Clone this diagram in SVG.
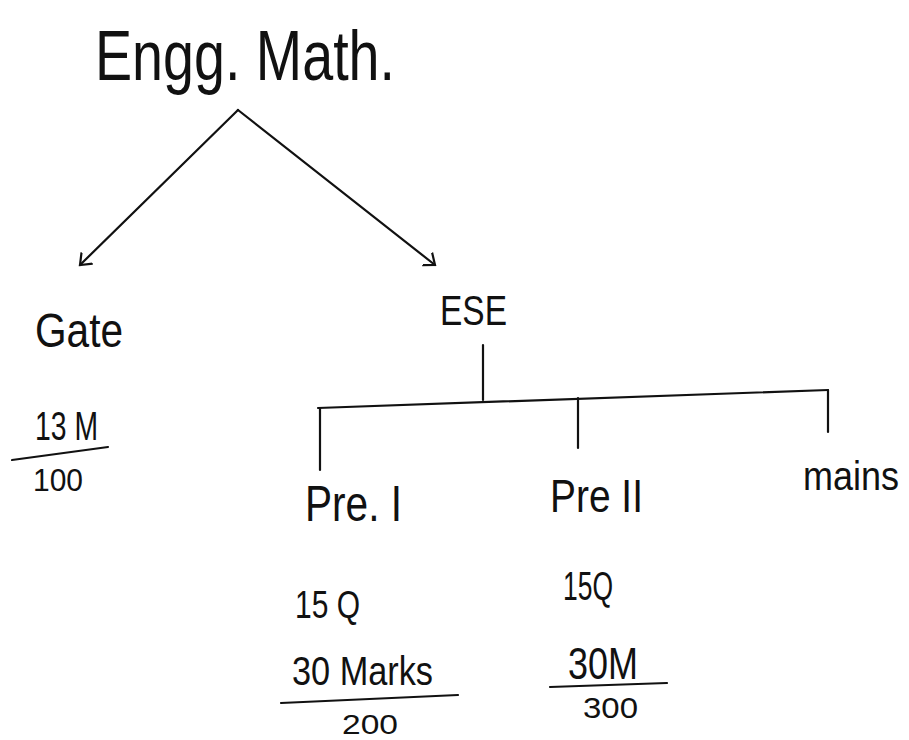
<svg xmlns="http://www.w3.org/2000/svg" width="909" height="740" viewBox="0 0 909 740">
<defs>
<style>
.t{font-family:"Liberation Sans","DejaVu Sans",sans-serif;fill:#111;}
.l{stroke:#111;stroke-width:2.2;fill:none;stroke-linecap:round;}
</style>
<marker id="ah" markerWidth="20" markerHeight="20" refX="10" refY="10" orient="auto" markerUnits="userSpaceOnUse">
<path d="M0,2 L10,10 L0,18" fill="none" stroke="#111" stroke-width="2.2"/>
</marker>
</defs>
<rect width="909" height="740" fill="#fff"/>
<g id="title"><text class="t" x="95" y="80" font-size="70" textLength="300" lengthAdjust="spacingAndGlyphs">Engg. Math.</text></g>
<g id="connectors">
<path class="l" d="M238,110 L80,265" marker-end="url(#ah)"/>
<path class="l" d="M238,110 L435,265" marker-end="url(#ah)"/>
<path class="l" d="M483,345 L483,400"/>
<path class="l" d="M318,408 L828,390"/>
<path class="l" d="M320,408 L320,470"/>
<path class="l" d="M578,398 L578,448"/>
<path class="l" d="M828,390 L828,432"/>
</g>
<g id="gate"><text class="t" x="35" y="347" font-size="48" textLength="88" lengthAdjust="spacingAndGlyphs">Gate</text></g>
<g id="gate-frac">
<text class="t" x="35" y="440" font-size="40" textLength="63" lengthAdjust="spacingAndGlyphs">13 M</text>
<path class="l" d="M12,460 L108,447"/>
<text class="t" x="33" y="491" font-size="31" textLength="50" lengthAdjust="spacingAndGlyphs">100</text>
</g>
<g id="ese"><text class="t" x="440" y="325" font-size="42" textLength="67" lengthAdjust="spacingAndGlyphs">ESE</text></g>
<g id="pre1"><text class="t" x="305" y="521" font-size="50" textLength="97" lengthAdjust="spacingAndGlyphs">Pre. I</text></g>
<g id="pre2"><text class="t" x="550" y="512" font-size="46" textLength="93" lengthAdjust="spacingAndGlyphs">Pre II</text></g>
<g id="mains"><text class="t" x="803" y="490" font-size="40" textLength="96" lengthAdjust="spacingAndGlyphs">mains</text></g>
<g id="pre1-frac">
<text class="t" x="295" y="618" font-size="38" textLength="65" lengthAdjust="spacingAndGlyphs">15 Q</text>
<text class="t" x="292" y="685" font-size="40" textLength="141" lengthAdjust="spacingAndGlyphs">30 Marks</text>
<path class="l" d="M281,703 L458,695"/>
<text class="t" x="342" y="734" font-size="28" textLength="56" lengthAdjust="spacingAndGlyphs">200</text>
</g>
<g id="pre2-frac">
<text class="t" x="563" y="600" font-size="40" textLength="50" lengthAdjust="spacingAndGlyphs">15Q</text>
<text class="t" x="568" y="679" font-size="44" textLength="70" lengthAdjust="spacingAndGlyphs">30M</text>
<path class="l" d="M550,687 L667,683"/>
<text class="t" x="583" y="718" font-size="30" textLength="55" lengthAdjust="spacingAndGlyphs">300</text>
</g>
</svg>
